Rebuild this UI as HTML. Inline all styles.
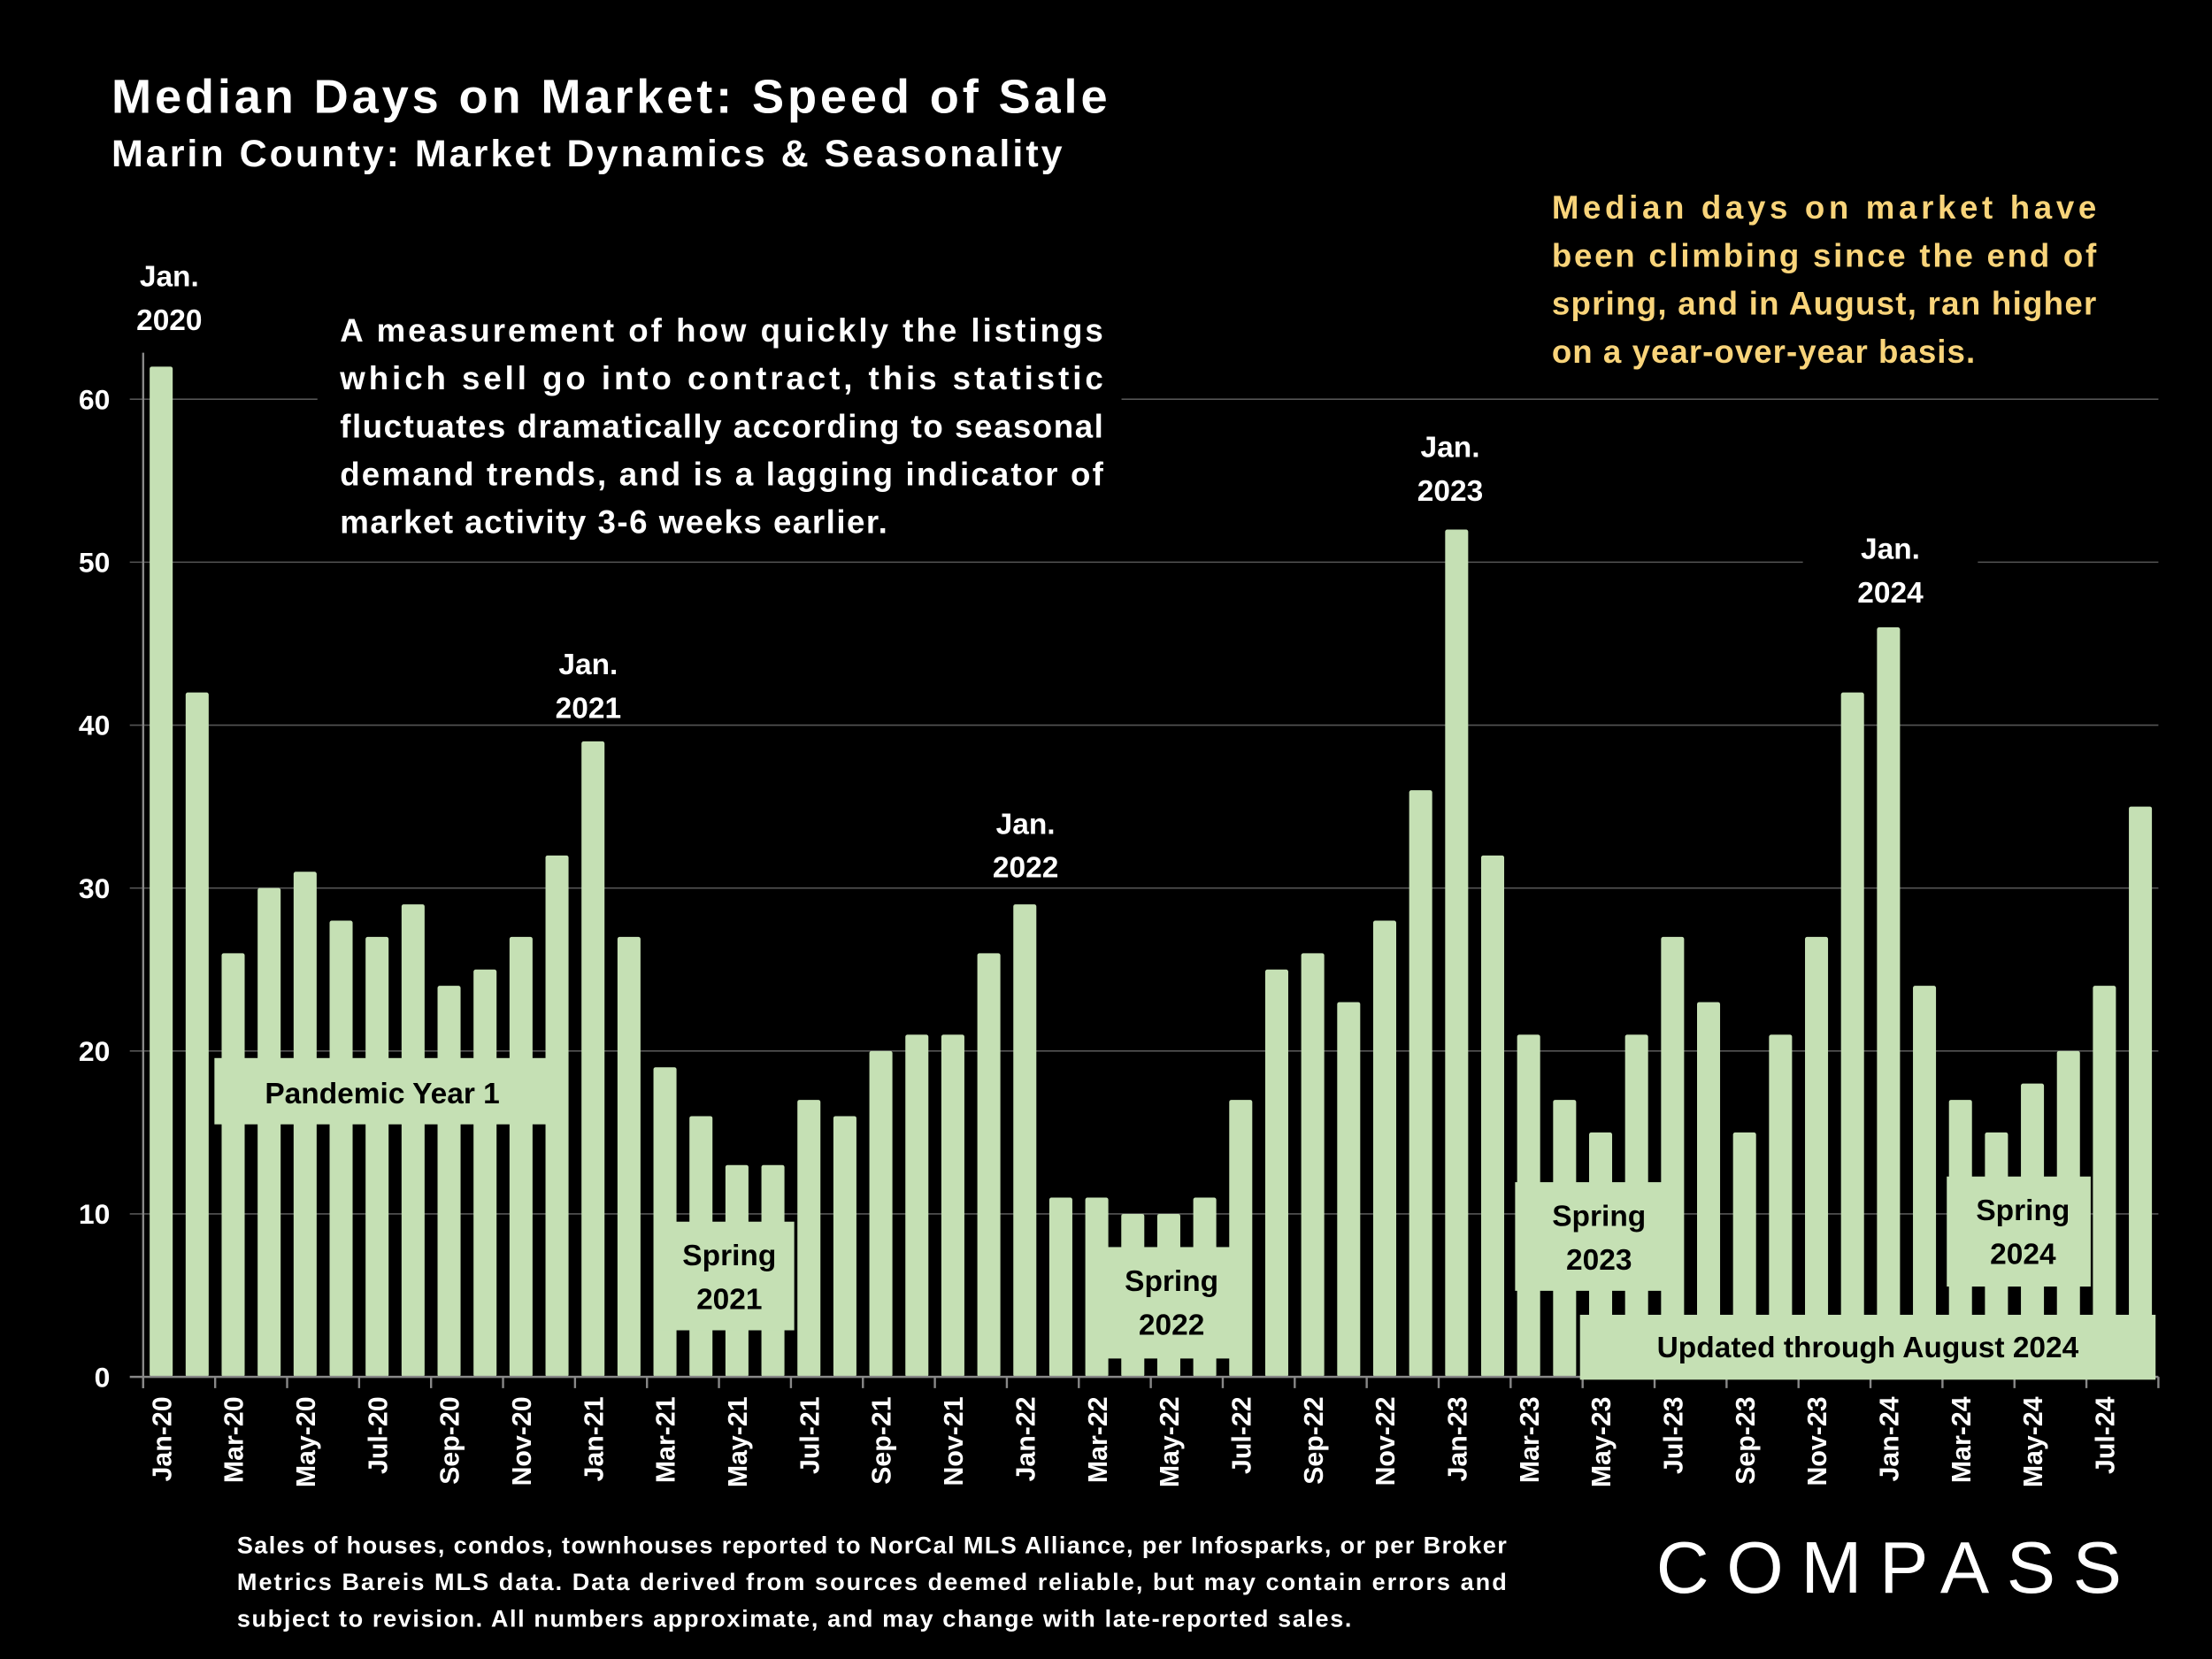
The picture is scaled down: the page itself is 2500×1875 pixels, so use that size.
<!DOCTYPE html>
<html><head><meta charset="utf-8"><style>
html,body{margin:0;padding:0;background:#000;}
svg{display:block;}
text{font-family:"Liberation Sans",sans-serif;font-weight:bold;}
</style></head><body>
<svg id="chart" width="2500" height="1875" viewBox="0 0 1568 1176" xmlns="http://www.w3.org/2000/svg">
<rect width="1568" height="1176" fill="#000"/>
<text x="79" y="80" fill="#fff" font-size="34" textLength="706">Median Days on Market:  Speed of Sale</text>
<text x="79" y="118" fill="#fff" font-size="27" textLength="674">Marin County: Market Dynamics &amp; Seasonality</text>
<g id="grid"></g>
<g id="bars"></g>
<g id="axes"></g>
<g id="annot"></g>
<g>
<text x="168" y="1101" fill="#fff" font-size="17" textLength="900">Sales of houses, condos, townhouses reported to NorCal MLS Alliance, per Infosparks, or per Broker</text>
<text x="168" y="1127" fill="#fff" font-size="17" textLength="900">Metrics Bareis MLS data. Data derived from sources deemed reliable, but may contain errors and</text>
<text x="168" y="1153" fill="#fff" font-size="17" textLength="790">subject to revision. All numbers approximate, and may change with late-reported sales.</text>
</g>
<text x="1174" y="1129" fill="#fff" font-size="52" style="font-weight:normal" textLength="330">COMPASS</text>
</svg>
<script>
const categories = ["Jan-20","Feb-20","Mar-20","Apr-20","May-20","Jun-20","Jul-20","Aug-20","Sep-20","Oct-20","Nov-20","Dec-20",
"Jan-21","Feb-21","Mar-21","Apr-21","May-21","Jun-21","Jul-21","Aug-21","Sep-21","Oct-21","Nov-21","Dec-21",
"Jan-22","Feb-22","Mar-22","Apr-22","May-22","Jun-22","Jul-22","Aug-22","Sep-22","Oct-22","Nov-22","Dec-22",
"Jan-23","Feb-23","Mar-23","Apr-23","May-23","Jun-23","Jul-23","Aug-23","Sep-23","Oct-23","Nov-23","Dec-23",
"Jan-24","Feb-24","Mar-24","Apr-24","May-24","Jun-24","Jul-24","Aug-24"];
const values = [62,42,26,30,31,28,27,29,24,25,27,32,
39,27,19,16,13,13,17,16,20,21,21,26,
29,11,11,10,10,11,17,25,26,23,28,36,
52,32,21,17,15,21,27,23,15,21,27,42,
46,24,17,15,18,20,24,35];
const yTicks = [0,10,20,30,40,50,60];
const NS="http://www.w3.org/2000/svg";
const X0=101.5, X1=1530, Y0=976, YMAX=60, Y60=283;
const step=(X1-X0)/categories.length;
function xPos(i){return X0+i*step;}
function yPos(v){return Y0-(v/YMAX)*(Y0-Y60);}
function mk(tag,attrs,parent){const e=document.createElementNS(NS,tag);for(const k in attrs)e.setAttribute(k,attrs[k]);parent.appendChild(e);return e;}
const grid=document.getElementById('grid'),bars=document.getElementById('bars'),axes=document.getElementById('axes'),annot=document.getElementById('annot');
yTicks.forEach(t=>{
  if(t>0){const l=mk('line',{x1:92,x2:X1,y1:yPos(t),y2:yPos(t),stroke:'#555','stroke-width':1},grid);
  
  }
  const tx=mk('text',{x:78,y:yPos(t)+7,fill:'#fff','font-size':20,'text-anchor':'end'},axes);
  tx.textContent=t;
  
  
});
values.forEach((v,i)=>{
  const bw=step*0.64;
  const r=mk('rect',{x:xPos(i)+(step-bw)/2,y:yPos(v),width:bw,height:Y0-yPos(v),fill:'#c5e0b4',rx:1.5},bars);
  
  
});
const axl=mk('line',{x1:X0,x2:X0,y1:250,y2:Y0+8,stroke:'#888','stroke-width':1.5},axes);


const bxl=mk('line',{x1:92,x2:X1,y1:Y0,y2:Y0,stroke:'#888','stroke-width':1.5},axes);


for(let i=0;i<=categories.length;i+=2){
  const tk=mk('line',{x1:xPos(i),x2:xPos(i),y1:Y0,y2:Y0+8,stroke:'#888','stroke-width':1.5},axes);
  
  
  if(i<categories.length){
    const cx=xPos(i)+step/2+7;
    const t=mk('text',{x:cx,y:990,fill:'#fff','font-size':19,'text-anchor':'end',transform:`rotate(-90 ${cx} 990)`},axes);
    t.textContent=categories[i];
    
    
  }
}
function blk(x,y,w,h,name){const r=mk('rect',{x:x,y:y,width:w,height:h,fill:'#000'},annot);

}
function txt(x,y,s,size,fill,anchor,name,len){const a={x:x,y:y,fill:fill,'font-size':size,'text-anchor':anchor||'start'};if(len)a.textLength=len;const t=mk('text',a,annot);t.textContent=s;

}
function gbox(x,y,w,h,name){const r=mk('rect',{x:x,y:y,width:w,height:h,fill:'#c5e0b4'},annot);

}
blk(225,212,570,170,'description-bg');
const desc=["A measurement of how quickly the listings","which sell go into contract, this statistic","fluctuates dramatically according to seasonal","demand trends, and is a lagging indicator of","market activity 3-6 weeks earlier."];
desc.forEach((s,i)=>txt(241,242+i*34,s,23,'#fff','start','description-line-'+(i+1),i<4?541:388));
const note=["Median days on market have","been climbing since the end of","spring, and in August, ran higher","on a year-over-year basis."];
note.forEach((s,i)=>txt(1100,155+i*34,s,23,'#f9d47a','start','note-line-'+(i+1),i<3?386:300));
[[120,195,'2020'],[417,470,'2021'],[727,583,'2022'],[1028,316,'2023'],[1340,388,'2024']].forEach(([x,y,yr])=>{
  if(yr!=='2020')blk(x-62,y-25,124,62,'jan-'+yr+'-label-bg');
  txt(x,y+8,'Jan.',21,'#fff','middle','jan-'+yr+'-label-line1');
  txt(x,y+39,yr,21,'#fff','middle','jan-'+yr+'-label-line2');
});
gbox(152,750,238,47,'pandemic-year-box');
txt(271,782,'Pandemic Year 1',21,'#000','middle','pandemic-year-label');
[[465,866,98,77,'2021'],[770,884,115,79,'2022'],[1074,838,113,77,'2023'],[1380,834,102,78,'2024']].forEach(([x,y,w,h,yr])=>{
  gbox(x,y,w,h,'spring-'+yr+'-box');
  txt(x+w/2+3,y+31,'Spring',21,'#000','middle','spring-'+yr+'-label-line1');
  txt(x+w/2+3,y+62,yr,21,'#000','middle','spring-'+yr+'-label-line2');
});
gbox(1120,932,408,46,'updated-box');
txt(1324,962,'Updated through August 2024',21,'#000','middle','updated-label');
</script>
</body></html>
